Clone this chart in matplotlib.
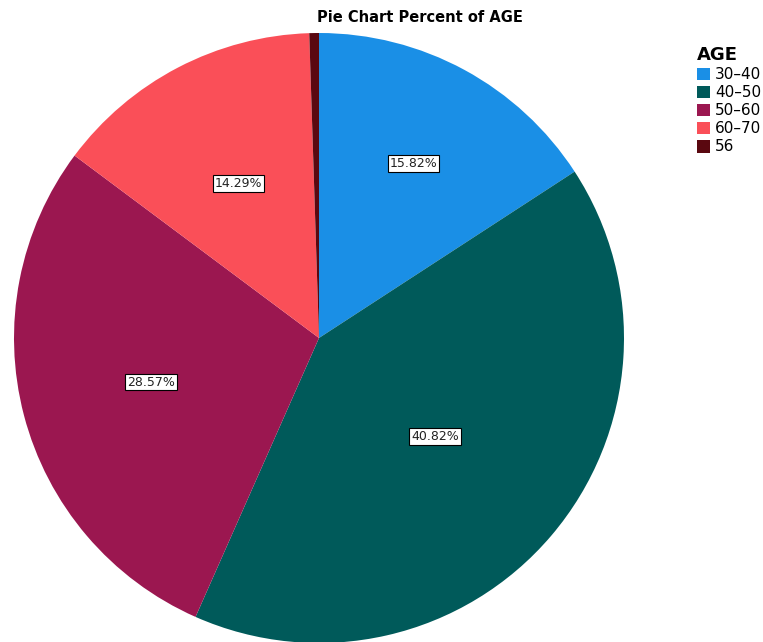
import matplotlib.pyplot as plt
import numpy as np
from matplotlib.patches import Patch

age_groups = ["30\u201340", "40\u201350", "50\u201360", "60\u201370", "56"]
counts = [31, 80, 56, 28, 1]
percents = [15.82, 40.82, 28.57, 14.29, 0.51]
colors = ["#1a8fe6", "#005a5a", "#9b1750", "#fa4f58", "#5a0810"]

W, H = 763, 642
fig = plt.figure(figsize=(W / 100, H / 100), dpi=100)
ax = fig.add_axes([0, 0, 1, 1])

cx, cy, r = 319, H - 338, 305
wedges, _ = ax.pie(
    counts,
    colors=colors,
    startangle=90,
    counterclock=False,
    center=(cx, cy),
    radius=r,
    frame=True,
    wedgeprops={"linewidth": 0},
)
ax.set_xlim(0, W)
ax.set_ylim(0, H)
ax.set_aspect("equal")
ax.axis("off")

# label radii as fraction of the pie radius
label_dist = [0.65, 0.5, 0.57, 0.57]
for w, pct, d in zip(wedges, percents, label_dist):
    mid = np.deg2rad((w.theta1 + w.theta2) / 2)
    ax.text(
        cx + d * r * np.cos(mid),
        cy + d * r * np.sin(mid),
        f"{pct:.2f}%",
        ha="center",
        va="center",
        fontsize=9,
        color="#222222",
        bbox=dict(boxstyle="square,pad=0.15", fc="white", ec="black", lw=0.8),
    )

fig.text(0.55, 0.972, "Pie Chart Percent of AGE", ha="center", va="center",
         fontsize=10.5, fontweight="bold")

handles = [Patch(facecolor=c, edgecolor="none") for c in colors]
leg = fig.legend(
    handles,
    age_groups,
    title="AGE",
    loc="upper left",
    bbox_to_anchor=(0.903, 0.94),
    frameon=False,
    fontsize=11,
    title_fontproperties={"weight": "bold", "size": 13},
    handlelength=0.9,
    handleheight=0.9,
    handletextpad=0.3,
    labelspacing=0.2,
    borderpad=0,
)
leg._legend_box.align = "left"

fig.savefig("out.png", dpi=100)
